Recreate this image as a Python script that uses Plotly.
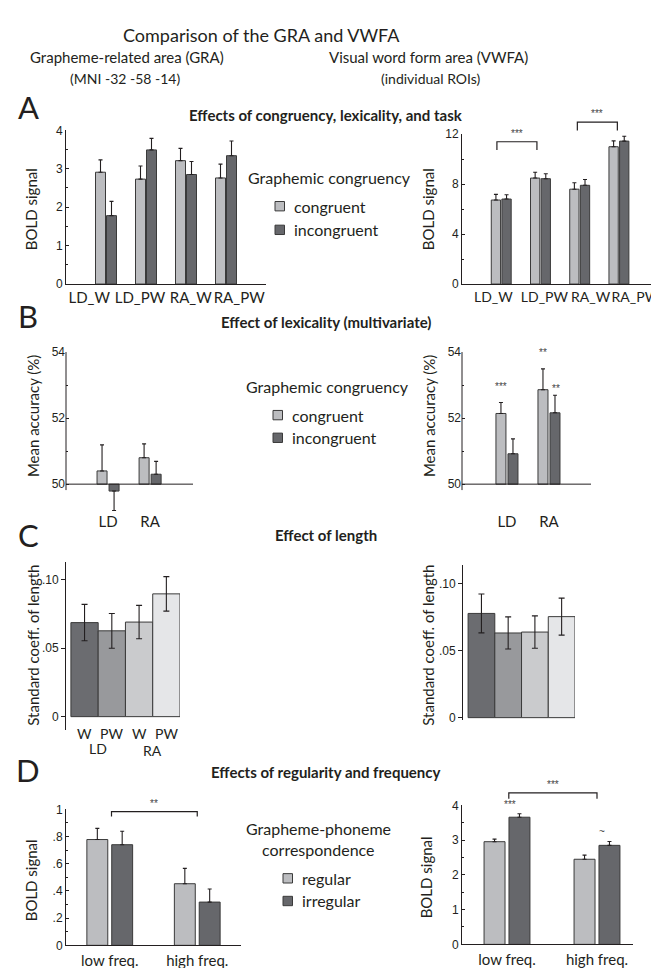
import plotly.graph_objects as go

W, H = 659, 968

# ---------------- data ----------------
conditions_A = ["LD_W", "LD_PW", "RA_W", "RA_PW"]
gra_A_congruent = [2.91, 2.73, 3.21, 2.76]
gra_A_congruent_err = [0.32, 0.34, 0.32, 0.36]
gra_A_incongruent = [1.78, 3.49, 2.85, 3.34]
gra_A_incongruent_err = [0.37, 0.30, 0.34, 0.38]
vwfa_A_congruent = [6.73, 8.49, 7.60, 11.00]
vwfa_A_congruent_err = [0.45, 0.47, 0.52, 0.47]
vwfa_A_incongruent = [6.81, 8.44, 7.91, 11.45]
vwfa_A_incongruent_err = [0.34, 0.39, 0.47, 0.39]

tasks_B = ["LD", "RA"]
gra_B_congruent = [50.40, 50.80]
gra_B_congruent_err = [0.79, 0.42]
gra_B_incongruent = [49.79, 50.30]
gra_B_incongruent_err = [0.59, 0.39]
vwfa_B_congruent = [52.14, 52.86]
vwfa_B_congruent_err = [0.33, 0.63]
vwfa_B_incongruent = [50.92, 52.16]
vwfa_B_incongruent_err = [0.45, 0.53]
vwfa_B_stars_congruent = ["***", "**"]
vwfa_B_stars_incongruent = ["", "**"]

conditions_C = ["W", "PW", "W", "PW"]
tasks_C = ["LD", "RA"]
gra_C = [0.0687, 0.0627, 0.0691, 0.0897]
gra_C_err = [0.0133, 0.0127, 0.0122, 0.0126]
vwfa_C = [0.0778, 0.0632, 0.0639, 0.0754]
vwfa_C_err = [0.0145, 0.0120, 0.0121, 0.0138]

freq_D = ["low freq.", "high freq."]
gra_D_regular = [0.778, 0.453]
gra_D_regular_err = [0.082, 0.113]
gra_D_irregular = [0.740, 0.318]
gra_D_irregular_err = [0.099, 0.096]
vwfa_D_regular = [2.955, 2.45]
vwfa_D_regular_err = [0.075, 0.12]
vwfa_D_irregular = [3.66, 2.85]
vwfa_D_irregular_err = [0.10, 0.11]
vwfa_D_stars = ["***", "~"]

# ---------------- styles ----------------
LIGHT = "#bcbdc0"
DARK = "#66676b"
C_COLORS = ["#6b6c70", "#98999c", "#cacbcd", "#e5e6e8"]
EDGE = "#3a3a3a"
TXT = "#231f20"
STAR = "#444444"
SANS = "Lato"
NUM = "Liberation Sans"

# panel geometry in pixels: (x_left, x_right), (y_top, y_bottom), x range, y range
panels = {
    "A1": dict(n=1, xp=(58, 258), yp=(117, 273), xr=(0, 5), yr=(0, 4)),
    "A2": dict(n=2, xp=(454, 658), yp=(121, 273), xr=(0, 5.2), yr=(0, 12)),
    "B1": dict(n=3, xp=(58, 185), yp=(342, 503.5), xr=(0, 3.02), yr=(49.18, 54)),
    "B2": dict(n=4, xp=(454, 583), yp=(342, 503.5), xr=(-0.07, 3.0), yr=(49.18, 54)),
    "C1": dict(n=5, xp=(58, 172), yp=(555, 725), xr=(0.32, 4.5), yr=(-0.0094, 0.113)),
    "C2": dict(n=6, xp=(455, 567), yp=(558, 715), xr=(0.31, 4.5), yr=(-0.0015, 0.114)),
    "D1": dict(n=7, xp=(58, 233), yp=(806, 944), xr=(0.5, 2.5), yr=(0, 1)),
    "D2": dict(n=8, xp=(454, 625), yp=(802, 943), xr=(0.5, 2.4), yr=(0, 4)),
}


def refs(p):
    n = panels[p]["n"]
    s = "" if n == 1 else str(n)
    return "x" + s, "y" + s


def to_paper(p, x, y):
    g = panels[p]
    dx0, dx1 = g["xp"][0] / W, g["xp"][1] / W
    dy0, dy1 = 1 - g["yp"][1] / H, 1 - g["yp"][0] / H
    px = dx0 + (x - g["xr"][0]) / (g["xr"][1] - g["xr"][0]) * (dx1 - dx0)
    py = dy0 + (y - g["yr"][0]) / (g["yr"][1] - g["yr"][0]) * (dy1 - dy0)
    return px, py


fig = go.Figure()


def err(vals, up, base=None):
    if base is None:
        return dict(type="data", symmetric=False, array=up, arrayminus=[0] * len(up),
                    color=TXT, thickness=1.1, width=2)
    a = [e if v >= base else 0 for v, e in zip(vals, up)]
    m = [e if v < base else 0 for v, e in zip(vals, up)]
    return dict(type="data", symmetric=False, array=a, arrayminus=m,
                color=TXT, thickness=1.1, width=2)


def pair(p, names, v1, e1, v2, e2, w, gap, labels=("congruent", "incongruent"), base=None):
    xr, yr = refs(p)
    xs = list(range(1, len(v1) + 1))
    for vals, errs, color, off, name in [
        (v1, e1, LIGHT, -(w + gap / 2), labels[0]),
        (v2, e2, DARK, gap / 2, labels[1]),
    ]:
        if base is None:
            yv = vals
        else:
            yv = [v - base for v in vals]
        fig.add_trace(go.Bar(
            x=xs, y=yv, base=base, width=w, offset=off, name=name,
            marker=dict(color=color, line=dict(color=EDGE, width=1)),
            error_y=err(vals, errs, base), showlegend=False,
            customdata=names, hovertemplate="%{customdata}<extra>" + name + "</extra>",
            xaxis=xr, yaxis=yr, cliponaxis=False,
        ))


# Panel A
pair("A1", conditions_A, gra_A_congruent, gra_A_congruent_err,
     gra_A_incongruent, gra_A_incongruent_err, 0.25, 0.025)
pair("A2", conditions_A, vwfa_A_congruent, vwfa_A_congruent_err,
     vwfa_A_incongruent, vwfa_A_incongruent_err, 0.237, 0.034)
# Panel B
pair("B1", tasks_B, gra_B_congruent, gra_B_congruent_err,
     gra_B_incongruent, gra_B_incongruent_err, 0.238, 0.048, base=50)
pair("B2", tasks_B, vwfa_B_congruent, vwfa_B_congruent_err,
     vwfa_B_incongruent, vwfa_B_incongruent_err, 0.238, 0.048, base=50)
# Panel C
for p, vals, errs in [("C1", gra_C, gra_C_err), ("C2", vwfa_C, vwfa_C_err)]:
    xr, yr = refs(p)
    fig.add_trace(go.Bar(
        x=[1, 2, 3, 4], y=vals, width=1, offset=-0.5,
        marker=dict(color=C_COLORS, line=dict(color=EDGE, width=1)),
        error_y=dict(type="data", array=errs, color=TXT, thickness=1.1, width=3),
        showlegend=False, xaxis=xr, yaxis=yr,
    ))
# Panel D
pair("D1", freq_D, gra_D_regular, gra_D_regular_err,
     gra_D_irregular, gra_D_irregular_err, 0.239, 0.045, labels=("regular", "irregular"))
pair("D2", freq_D, vwfa_D_regular, vwfa_D_regular_err,
     vwfa_D_irregular, vwfa_D_irregular_err, 0.233, 0.044, labels=("regular", "irregular"))

# ---------------- axes ----------------
tickfont = dict(family=NUM, size=12, color=TXT)
catfont = dict(family=SANS, size=15, color=TXT)
layout = {}
for p, g in panels.items():
    n = g["n"]
    s = "" if n == 1 else str(n)
    layout["xaxis" + s] = dict(
        domain=[g["xp"][0] / W, g["xp"][1] / W], range=list(g["xr"]), anchor="y" + s,
        showgrid=False, zeroline=False, showline=True, linecolor=TXT, linewidth=1,
        ticks="", tickfont=catfont, tickangle=0, fixedrange=True, ticklabeloverflow="allow",
    )
    layout["yaxis" + s] = dict(
        domain=[1 - g["yp"][1] / H, 1 - g["yp"][0] / H], range=list(g["yr"]), anchor="x" + s,
        showgrid=False, zeroline=False, showline=True, linecolor=TXT, linewidth=1,
        ticks="inside", ticklen=3, tickcolor=TXT, tickfont=tickfont, fixedrange=True,
    )

# A
layout["xaxis"].update(tickvals=[0.58, 1.85, 3.12, 4.33], ticktext=conditions_A)
layout["yaxis"].update(tickvals=[0, 1, 2, 3, 4], minor=dict(dtick=0.5, ticks="inside", ticklen=2, tickcolor=TXT))
layout["xaxis2"].update(tickvals=[0.8, 2.1, 3.28, 4.42], ticktext=conditions_A,
                        tickfont=dict(family=SANS, size=14, color=TXT))
layout["yaxis2"].update(tickvals=[0, 4, 8, 12], minor=dict(dtick=2, ticks="inside", ticklen=2, tickcolor=TXT))
# B
for s in ["3", "4"]:
    layout["xaxis" + s].update(showline=False, tickvals=[1, 2], ticktext=tasks_B)
    layout["yaxis" + s].update(showline=False, tickvals=[50, 52, 54],
                               minor=dict(tickvals=[51, 53], ticks="inside", ticklen=2, tickcolor=TXT))
# C (category labels drawn as annotations below)
for s in ["5", "6"]:
    layout["xaxis" + s].update(showline=False, showticklabels=False)
    layout["yaxis" + s].update(ticks="outside", ticklen=4, tickvals=[0, 0.05, 0.10],
                               ticktext=["0", ".05", ".10"])
# D
layout["xaxis7"].update(tickvals=[1, 2], ticktext=freq_D, ticklabelstandoff=2)
layout["xaxis8"].update(tickvals=[1, 2], ticktext=freq_D, ticklabelstandoff=2)
layout["yaxis7"].update(tickvals=[0, 0.2, 0.4, 0.6, 0.8, 1.0], ticktext=["0", ".2", ".4", ".6", ".8", "1"],
                        minor=dict(dtick=0.1, ticks="inside", ticklen=2, tickcolor=TXT))
layout["yaxis8"].update(tickvals=[0, 1, 2, 3, 4], minor=dict(dtick=0.5, ticks="inside", ticklen=2, tickcolor=TXT))

shapes = []
annotations = []


def text(x_px, y_px, t, size=15, family=SANS, angle=0, color=TXT, xanchor="center"):
    annotations.append(dict(
        x=x_px / W, y=1 - y_px / H, xref="paper", yref="paper", text=t, showarrow=False,
        xanchor=xanchor, yanchor="middle", textangle=angle,
        font=dict(family=family, size=size, color=color),
    ))


# B axis lines drawn at custom extent
for p in ["B1", "B2"]:
    xr, yr = refs(p)
    shapes.append(dict(type="line", xref=xr + " domain", yref=yr, x0=0, x1=0, y0=49.82, y1=54,
                       line=dict(color=TXT, width=1)))
    shapes.append(dict(type="line", xref=xr + " domain", yref=yr, x0=0, x1=1, y0=50, y1=50,
                       line=dict(color=TXT, width=1)))


def bracket(p, xa, xb, top, bottom, stars):
    x0, y0 = to_paper(p, xa, bottom)
    x1, y1 = to_paper(p, xb, top)
    shapes.append(dict(type="path", xref="paper", yref="paper",
                       path=f"M{x0},{y0} L{x0},{y1} L{x1},{y1} L{x1},{y0}",
                       line=dict(color=TXT, width=1.2)))
    xm, ym = to_paper(p, (xa + xb) / 2, top)
    annotations.append(dict(x=xm, y=ym, xref="paper", yref="paper", text=stars, showarrow=False,
                            xanchor="center", yanchor="bottom", yshift=1,
                            font=dict(family=NUM, size=10, color=STAR)))


def star(p, x, y, t):
    px_, py_ = to_paper(p, x, y)
    annotations.append(dict(x=px_, y=py_, xref="paper", yref="paper", text=t, showarrow=False,
                            xanchor="center", yanchor="middle",
                            font=dict(family=NUM, size=10, color=STAR)))


bracket("A2", 0.89, 1.91, 11.4, 10.74, "***")
bracket("A2", 2.94, 3.96, 12.97, 12.3, "***")
bracket("D1", 1.02, 2.0, 0.983, 0.947, "**")
bracket("D2", 1.02, 2.0, 4.36, 4.19, "***")

for i, t in enumerate(vwfa_B_stars_congruent):
    if t:
        star("B2", i + 1 - 0.14, vwfa_B_congruent[i] + vwfa_B_congruent_err[i] + 0.5, t)
for i, t in enumerate(vwfa_B_stars_incongruent):
    if t:
        star("B2", i + 1 + 0.16, vwfa_B_incongruent[i] + vwfa_B_incongruent_err[i] + 0.2, t)
star("D2", 1.03, vwfa_D_irregular[0] + vwfa_D_irregular_err[0] + 0.27, vwfa_D_stars[0])
star("D2", 2.05, vwfa_D_irregular[1] + vwfa_D_irregular_err[1] + 0.3, vwfa_D_stars[1])

# C category labels (two levels)
cfont = dict(family=SANS, size=14, color=TXT)
for i, lab in enumerate(conditions_C):
    xp_, _ = to_paper("C1", i + 1, 0)
    annotations.append(dict(x=xp_, y=1 - 729 / H, xref="paper", yref="paper", text=lab,
                            showarrow=False, xanchor="center", yanchor="middle", font=cfont))
for j, lab in enumerate(tasks_C):
    xp_, _ = to_paper("C1", 2 * j + 1.5, 0)
    annotations.append(dict(x=xp_, y=1 - (744 + 2 * j) / H, xref="paper", yref="paper", text=lab,
                            showarrow=False, xanchor="center", yanchor="middle", font=cfont))

# headers
text(253, 20, "Comparison of the GRA and VWFA", size=18)
text(119, 43, "Grapheme-related area (GRA)", size=15)
text(117, 64, "(MNI -32 -58 -14)", size=14)
text(420, 43, "Visual word form area (VWFA)", size=15)
text(423, 64, "(individual ROIs)", size=14)

# panel letters and titles
for letter, y in [("A", 93), ("B", 305), ("C", 528), ("D", 766)]:
    text(20, y, letter, size=31)
text(318, 101, "<b>Effects of congruency, lexicality, and task</b>", size=15)
text(318, 312, "<b>Effect of lexicality (multivariate)</b>", size=15)
text(318, 528, "<b>Effect of length</b>", size=15)
text(318, 768, "<b>Effects of regularity and frequency</b>", size=15)

# y-axis titles
for x, y, t in [(23, 197, "BOLD signal"), (420, 197, "BOLD signal"),
                (25, 407, "Mean accuracy (%)"), (421, 407, "Mean accuracy (%)"),
                (25, 640, "Standard coeff. of length"), (420, 640, "Standard coeff. of length"),
                (23, 878, "BOLD signal"), (418, 875, "BOLD signal")]:
    text(x, y, t, size=15, angle=-90)


# legends
def legend_box(x_px, y_px, color, label):
    s = 9.5
    shapes.append(dict(type="rect", xref="paper", yref="paper",
                       x0=x_px / W, x1=(x_px + s) / W,
                       y0=1 - (y_px - s / 2) / H, y1=1 - (y_px + s / 2) / H,
                       fillcolor=color, line=dict(color=EDGE, width=1)))
    text(x_px + 17, y_px, label, size=16, xanchor="left")


text(238, 165, "Graphemic congruency", size=16, xanchor="left")
legend_box(267, 194, LIGHT, "congruent")
legend_box(267, 218, DARK, "incongruent")

text(236, 377, "Graphemic congruency", size=16, xanchor="left")
legend_box(265, 406, LIGHT, "congruent")
legend_box(265, 429, DARK, "incongruent")

text(310, 825, "Grapheme-phoneme", size=16)
text(310, 847, "correspondence", size=16)
legend_box(275, 876, LIGHT, "regular")
legend_box(275, 899, DARK, "irregular")

fig.update_layout(
    **layout,
    width=W, height=H, margin=dict(l=0, r=0, t=0, b=0),
    paper_bgcolor="white", plot_bgcolor="white",
    barmode="overlay", showlegend=False,
    shapes=shapes, annotations=annotations,
    font=dict(family=SANS, color=TXT),
)

fig.write_html("out.html")
